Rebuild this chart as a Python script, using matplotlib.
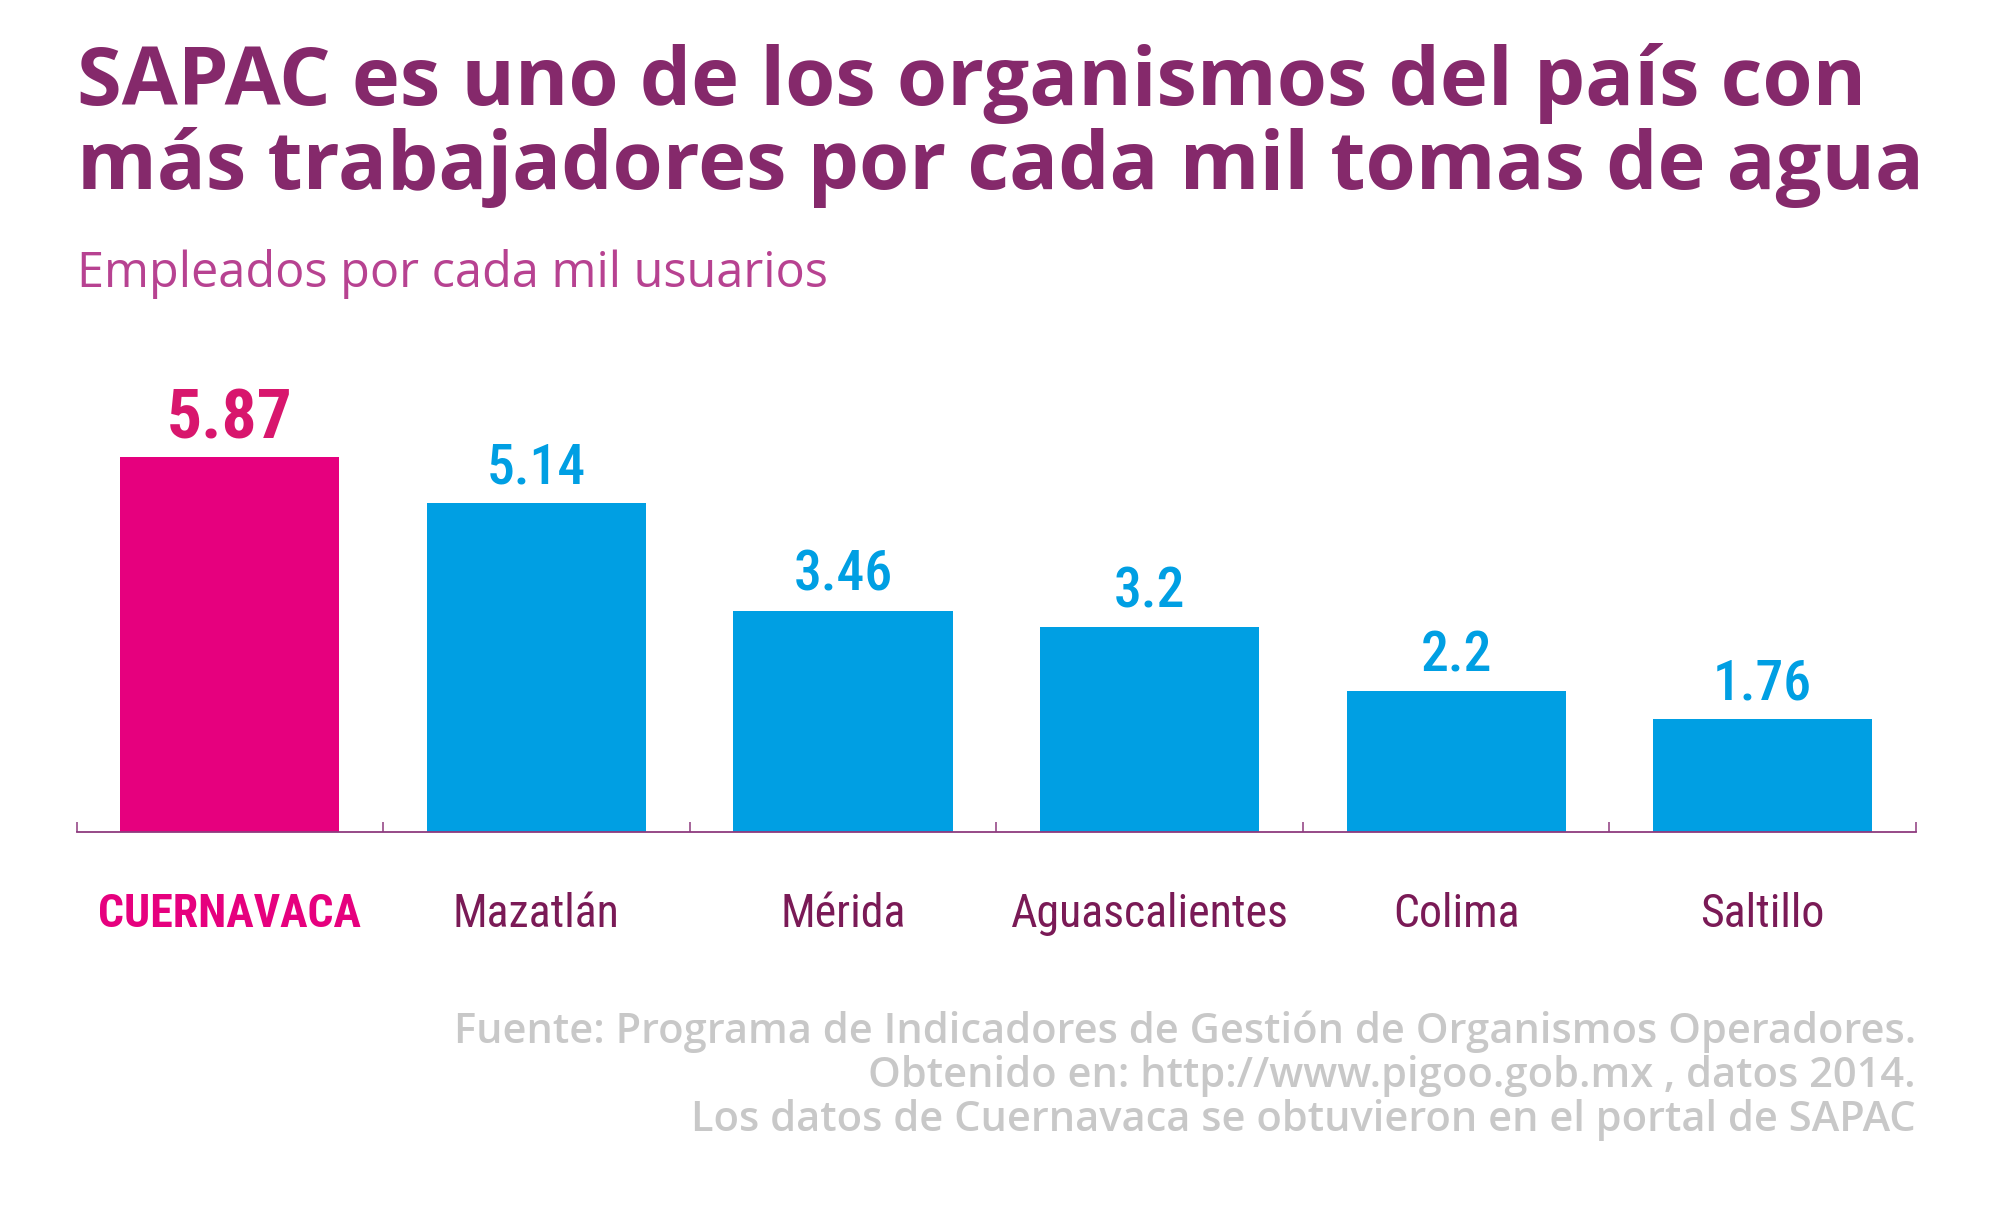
import matplotlib
matplotlib.use('Agg')
import matplotlib.pyplot as plt
from matplotlib import font_manager

# data
ciudades = ['CUERNAVACA', 'Mazatlán', 'Mérida', 'Aguascalientes', 'Colima', 'Saltillo']
empleados = [5.87, 5.14, 3.46, 3.2, 2.2, 1.76]
etiquetas = ['5.87', '5.14', '3.46', '3.2', '2.2', '1.76']

titulo = ['SAPAC es uno de los organismos del país con',
          'más trabajadores por cada mil tomas de agua']
subtitulo = 'Empleados por cada mil usuarios'
fuente = ['Fuente: Programa de Indicadores de Gestión de Organismos Operadores.',
          'Obtenido en: http://www.pigoo.gob.mx , datos 2014.',
          'Los datos de Cuernavaca se obtuvieron en el portal de SAPAC']

PURPLE = '#85296b'
SUB = '#b74291'
DARK = '#7a1a56'
PINK = '#e6007e'
PINK_TXT = '#d8166d'
BLUE = '#009fe3'
GRAY = '#c8c8c8'

# pick a condensed font if there is one
names = {f.name for f in font_manager.fontManager.ttflist}
cond = 'DejaVu Sans'
for n in ['Roboto Condensed', 'Liberation Sans Narrow', 'Open Sans Condensed']:
    if n in names:
        cond = n
        break
cond_kw = dict(family=[cond, 'DejaVu Sans'], stretch='condensed')
main_font = ['Open Sans', 'DejaVu Sans']

fig = plt.figure(figsize=(20, 12.22), dpi=100)
ax = fig.add_axes([0.03825, 0.3192, 0.91975, 0.3399])

colores = [PINK] + [BLUE] * (len(empleados) - 1)
x = list(range(len(ciudades)))
ax.bar(x, empleados, width=0.715, color=colores, zorder=2)
ax.set_xlim(-0.5, len(ciudades) - 0.5)
ax.set_ylim(0, 6.5)

for s in ['top', 'right', 'left']:
    ax.spines[s].set_visible(False)
ax.spines['bottom'].set_color('#8e3a7e')
ax.spines['bottom'].set_linewidth(1.3)
ax.set_yticks([])
ax.set_xticks([i - 0.5 for i in range(len(ciudades) + 1)])
ax.set_xticklabels([])
ax.tick_params(axis='x', direction='in', length=7, width=1.1, color='#8e3a7e')

for i, (v, t) in enumerate(zip(empleados, etiquetas)):
    if i == 0:
        ax.annotate(t, xy=(i, v), xytext=(0, 13.5), textcoords='offset points',
                    ha='center', va='baseline', fontsize=50, fontweight='bold',
                    color=PINK_TXT, **cond_kw)
    else:
        ax.annotate(t, xy=(i, v), xytext=(0, 14.5), textcoords='offset points',
                    ha='center', va='baseline', fontsize=40, fontweight='medium',
                    color=BLUE, **cond_kw)

for i, c in enumerate(ciudades):
    ax.annotate(c, xy=(i, 0), xytext=(0, -68.5), textcoords='offset points',
                ha='center', va='baseline', fontsize=33,
                fontweight='bold' if i == 0 else 'normal',
                color=PINK if i == 0 else DARK, **cond_kw)

for linea, yy in zip(titulo, [105, 189]):
    fig.text(0.0385, 1 - yy / 1222, linea, fontsize=58.5, fontweight='bold', color=PURPLE,
             family=main_font, va='baseline', ha='left')
fig.text(0.0385, 1 - 287 / 1222, subtitulo, fontsize=35, color=SUB,
         family=main_font, va='baseline', ha='left')

for linea, yy in zip(fuente, [1043, 1087, 1131]):
    fig.text(0.958, 1 - yy / 1222, linea, fontsize=30, fontweight='semibold', color=GRAY,
             family=main_font, va='baseline', ha='right')

fig.savefig('out.png', dpi=100, facecolor='white')
